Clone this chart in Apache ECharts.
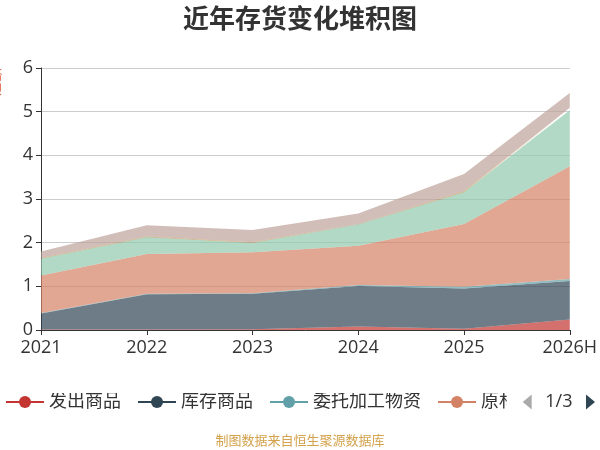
<!DOCTYPE html>
<html><head><meta charset="utf-8">
<script src="https://cdn.jsdelivr.net/npm/echarts@6/dist/echarts.min.js"></script>
<style>html,body{margin:0;padding:0;background:#fff}#c{width:600px;height:450px}</style>
</head><body><div id="c"></div>
<script>
const years = ['2021','2022','2023','2024','2025','2026H'];
const seriesNames = ['发出商品','库存商品','委托加工物资','原材料','在产品','周转材料','自制半成品','合同履约成本'];
const fachu   = [0.01, 0.01, 0.02, 0.08, 0.03, 0.24];
const kucun   = [0.37, 0.81, 0.81, 0.93, 0.92, 0.88];
const weituo  = [0.01, 0.01, 0.01, 0.02, 0.04, 0.05];
const yuancai = [0.86, 0.91, 0.94, 0.90, 1.44, 2.58];
const zaichan = [0.38, 0.38, 0.21, 0.48, 0.72, 1.28];
const zhouzhuan = [0.01, 0.01, 0.01, 0.01, 0.01, 0.02];
const zizhi   = [0.01, 0.01, 0.01, 0.01, 0.02, 0.04];
const hetong  = [0.15, 0.26, 0.28, 0.24, 0.39, 0.34];
const seriesData = [fachu, kucun, weituo, yuancai, zaichan, zhouzhuan, zizhi, hetong];
const colors = ['#c23531','#2f4554','#61a0a8','#d48265','#91c7ae','#749f83','#ca8622','#bda29a'];
const FF = '"Open Sans", "Noto Sans CJK SC", sans-serif';

const chart = echarts.init(document.getElementById('c'));
chart.setOption({
  color: colors,
  textStyle: {fontFamily: FF},
  title: [{
    text: '近年存货变化堆积图', left: 'center', top: 3,
    textStyle: {fontSize: 26, fontWeight: 'bold', color: '#333', fontFamily: FF}
  },{
    text: '制图数据来自恒生聚源数据库', left: 'center', top: 430,
    textStyle: {fontSize: 13, fontWeight: 'normal', color: '#d4a24c', fontFamily: FF}
  }],
  graphic: [{
    type: 'text', left: -9, top: 60, rotation: -Math.PI/2,
    style: {text: '（亿元）', fill: '#e05a3a', font: '11px "Noto Sans CJK SC"'}
  }],
  grid: {left: 41, right: 23, top: 68, bottom: 120},
  legend: {
    type: 'scroll', left: 0, right: 0, top: 388,
    itemWidth: 38, itemHeight: 15, itemGap: 16, itemTextGap: 8,
    textStyle: {fontSize: 18, color: '#333', fontFamily: FF},
    lineStyle: {width: 2},
    pageIconColor: '#2f4554', pageIconInactiveColor: '#aaa', pageIconSize: 15,
    pageTextStyle: {fontSize: 18, color: '#333', fontFamily: FF},
    data: seriesNames
  },
  xAxis: {
    type: 'category', boundaryGap: false, data: years,
    axisLine: {lineStyle: {color: '#333'}},
    axisTick: {lineStyle: {color: '#333'}},
    axisLabel: {fontSize: 18, color: '#333', margin: 9, fontFamily: FF}
  },
  yAxis: {
    type: 'value', min: 0, max: 6, interval: 1,
    axisLine: {show: true, lineStyle: {color: '#333'}},
    axisTick: {show: true, lineStyle: {color: '#333'}},
    axisLabel: {fontSize: 18, color: '#333', margin: 8, fontFamily: FF},
    splitLine: {lineStyle: {color: '#ccc'}}
  },
  series: seriesData.map((d, i) => ({
    name: seriesNames[i], type: 'line', stack: 'total', data: d,
    symbol: 'circle', symbolSize: 6, showSymbol: false,
    lineStyle: {width: 0},
    areaStyle: {opacity: 0.7},
    emphasis: {disabled: true}
  }))
});
</script></body></html>
